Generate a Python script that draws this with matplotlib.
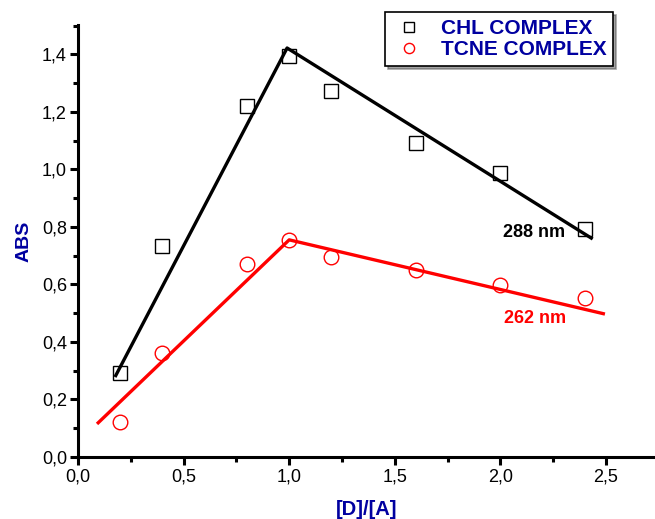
import matplotlib
matplotlib.use("Agg")
import matplotlib.pyplot as plt
from matplotlib.ticker import MultipleLocator, FuncFormatter

plt.rcParams['font.family'] = ['Liberation Sans', 'DejaVu Sans']

ratio = [0.2, 0.4, 0.8, 1.0, 1.2, 1.6, 2.0, 2.4]
chl_abs = [0.292, 0.734, 1.220, 1.394, 1.273, 1.092, 0.987, 0.793]
tcne_abs = [0.122, 0.362, 0.671, 0.755, 0.695, 0.650, 0.598, 0.553]

chl_fit_x = [0.175, 0.99, 2.437]
chl_fit_y = [0.278, 1.422, 0.758]
tcne_fit_x = [0.09, 1.0, 2.495]
tcne_fit_y = [0.115, 0.755, 0.497]

legend_labels = ["CHL COMPLEX", "TCNE COMPLEX"]
navy = "#0000A0"

fig = plt.figure(figsize=(6.55, 5.19), dpi=100)
ax = fig.add_axes([78/655, 62/519, 1 - 78/655, (457-25)/519])

ax.plot(chl_fit_x, chl_fit_y, color="black", lw=2.4, solid_capstyle="butt", zorder=2)
ax.plot(tcne_fit_x, tcne_fit_y, color="red", lw=2.4, solid_capstyle="butt", zorder=2)
h1, = ax.plot(ratio, chl_abs, ls="none", marker="s", ms=10.5, mfc="none", mec="black", mew=1.0, zorder=3)
h2, = ax.plot(ratio, tcne_abs, ls="none", marker="o", ms=10.5, mfc="none", mec="red", mew=1.0, zorder=3)

ax.text(2.012, 0.782, "288 nm", color="black", fontsize=13, fontweight="bold", ha="left", va="center")
ax.text(2.017, 0.483, "262 nm", color="red", fontsize=13, fontweight="bold", ha="left", va="center")

ax.set_xlim(0, 2.732)
ax.set_ylim(0, 1.502)
for s in ["top", "right"]:
    ax.spines[s].set_visible(False)
for s in ["left", "bottom"]:
    ax.spines[s].set_linewidth(2.2)

ax.xaxis.set_major_locator(MultipleLocator(0.5))
ax.xaxis.set_minor_locator(MultipleLocator(0.25))
ax.yaxis.set_major_locator(MultipleLocator(0.2))
ax.yaxis.set_minor_locator(MultipleLocator(0.1))
fmt = FuncFormatter(lambda v, p: f"{v:.1f}".replace(".", ","))
ax.xaxis.set_major_formatter(fmt)
ax.yaxis.set_major_formatter(fmt)
ax.tick_params(which="major", direction="out", length=6, width=2.2, labelsize=13, pad=2)
ax.tick_params(which="minor", direction="out", length=3.5, width=2.2)

ax.set_xlabel("[D]/[A]", color=navy, fontsize=14.5, fontweight="bold", labelpad=10.5)
ax.set_ylabel("ABS", color=navy, fontsize=14, fontweight="bold", labelpad=7)

leg = fig.legend([h1, h2], legend_labels, loc="upper left",
                 bbox_to_anchor=(385/655, 1 - 12/519), frameon=True, shadow=True,
                 fancybox=False, edgecolor="black", fontsize=15, markerscale=0.7,
                 handletextpad=0.75, borderpad=0.33, labelspacing=0.12, handlelength=1.6,
                 borderaxespad=0)
for t in leg.get_texts():
    t.set_color(navy)
    t.set_fontweight("bold")
leg.get_frame().set_linewidth(1.2)

fig.savefig("out.png", dpi=100)
